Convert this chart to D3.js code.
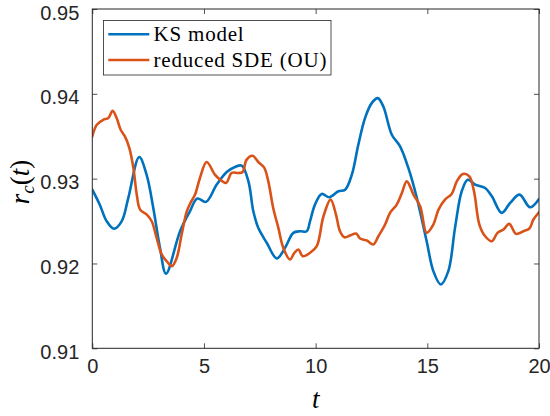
<!DOCTYPE html>
<html><head><meta charset="utf-8">
<script src="https://cdn.jsdelivr.net/npm/d3@7"></script>
<style>body{margin:0;background:#fff}svg{display:block}</style>
</head><body>
<svg id="chart" width="550" height="416"></svg>
<script>
const xTicks = [0, 5, 10, 15, 20];
const yTicks = [0.91, 0.92, 0.93, 0.94, 0.95];
const seriesNames = ["KS model", "reduced SDE (OU)"];
const seriesColors = ["#0072BD", "#D95319"];

const ksT = [0,0.34,0.64,0.97,1.32,1.61,2.1,2.43,2.73,3.03,3.3,3.93,4.37,4.7,5.09,5.57,6.02,6.39,6.69,6.99,7.21,7.43,7.81,8.26,8.63,9.0,9.3,9.6,9.75,9.97,10.27,10.61,11.02,11.32,11.62,11.91,12.21,12.51,12.78,13.03,13.41,13.78,14.15,14.53,14.97,15.27,15.6,15.94,16.24,16.54,16.81,17.14,17.59,17.89,18.33,18.71,19.13,19.6,20];
const ksR = [0.9287,0.9269,0.9250,0.9241,0.9250,0.9277,0.93255,0.93047,0.92655,0.92185,0.9188,0.9238,0.92615,0.92765,0.92726,0.9293,0.93079,0.93138,0.93153,0.92968,0.92615,0.9242,0.92244,0.92059,0.92185,0.92361,0.9238,0.9238,0.9250,0.92694,0.9282,0.9278,0.92851,0.9287,0.93047,0.934,0.93714,0.9389,0.93949,0.9385,0.93518,0.9338,0.93126,0.92773,0.92262,0.9191,0.91753,0.9191,0.9242,0.92851,0.92988,0.9293,0.9289,0.92792,0.92596,0.92714,0.92812,0.92662,0.9276];

const sdeT = [0,0.2,0.49,0.72,0.91,1.09,1.27,1.46,1.66,1.84,1.99,2.14,2.44,2.66,2.88,3.11,3.33,3.56,3.78,4.0,4.23,4.42,4.6,4.82,5.12,5.49,5.72,5.99,6.24,6.54,6.73,6.91,7.18,7.43,7.69,7.88,8.1,8.33,8.55,8.85,9.05,9.23,9.42,9.75,10.05,10.35,10.67,10.91,11.09,11.29,11.54,11.81,11.99,12.29,12.58,12.81,13.11,13.33,13.63,13.86,14.08,14.38,14.68,14.97,15.27,15.5,15.79,16.09,16.32,16.59,16.88,17.09,17.33,17.59,17.89,18.14,18.41,18.67,18.97,19.3,19.57,19.75,20];
const sdeR = [0.93498,0.93635,0.93694,0.93714,0.938,0.93714,0.93576,0.93498,0.93361,0.93126,0.92812,0.92635,0.92576,0.92498,0.92302,0.92106,0.92027,0.91968,0.92067,0.92341,0.92615,0.92726,0.92812,0.93008,0.93196,0.93047,0.92988,0.9295,0.93067,0.93067,0.93079,0.93224,0.9327,0.93196,0.93133,0.92968,0.92655,0.9242,0.92185,0.92047,0.92126,0.92165,0.92086,0.92126,0.92204,0.92557,0.92753,0.92576,0.9238,0.92309,0.9233,0.92353,0.92294,0.92271,0.92224,0.92321,0.92459,0.92596,0.92694,0.92831,0.92968,0.92812,0.92674,0.92361,0.92459,0.92635,0.92753,0.9282,0.92968,0.93055,0.93027,0.92851,0.92459,0.92321,0.92262,0.92361,0.924,0.92467,0.92349,0.9238,0.92412,0.92518,0.92604];

const W = 550, H = 416;
const m = {left: 92.3, right: 11, top: 9, bottom: 67.7};
const svg = d3.select("#chart");
const x = d3.scaleLinear().domain([0, 20]).range([m.left, W - m.right]);
const y = d3.scaleLinear().domain([0.91, 0.95]).range([H - m.bottom, m.top]);
const axisColor = "#262626";
const sansFont = '"Liberation Sans", Arial, sans-serif';
const serifFont = '"Liberation Serif", "Times New Roman", serif';

const series = [
  {name: seriesNames[0], color: seriesColors[0], data: ksT.map((t, i) => [t, ksR[i]])},
  {name: seriesNames[1], color: seriesColors[1], data: sdeT.map((t, i) => [t, sdeR[i]])}
];

svg.append("clipPath").attr("id", "clip").append("rect")
  .attr("x", m.left).attr("y", m.top).attr("width", W - m.left - m.right).attr("height", H - m.top - m.bottom);

const line = d3.line().x(d => x(d[0])).y(d => y(d[1])).curve(d3.curveCatmullRom.alpha(0.5));
svg.append("g").attr("clip-path", "url(#clip)").selectAll("path").data(series).join("path")
  .attr("d", d => line(d.data)).attr("fill", "none").attr("stroke", d => d.color)
  .attr("stroke-width", 2.6).attr("stroke-linejoin", "round").attr("stroke-linecap", "round");

const tl = 5;
const styleAxis = g => {
  g.select(".domain").remove();
  g.selectAll(".tick line").attr("stroke", axisColor).attr("stroke-width", 0.8);
  g.selectAll(".tick text").attr("fill", axisColor).style("font-family", sansFont).style("font-size", "20px");
};
svg.append("g").attr("transform", `translate(0,${H - m.bottom})`)
  .call(d3.axisBottom(x).tickValues(xTicks).tickSize(-tl).tickPadding(11).tickFormat(d3.format("d")))
  .call(styleAxis);
svg.append("g").attr("transform", `translate(0,${m.top})`)
  .call(d3.axisTop(x).tickValues(xTicks).tickSize(-tl).tickFormat(""))
  .call(styleAxis);
svg.append("g").attr("transform", `translate(${m.left},0)`)
  .call(d3.axisLeft(y).tickValues(yTicks).tickSize(-tl).tickPadding(13).tickFormat(d3.format(".2f")))
  .call(styleAxis)
  .selectAll(".tick text").attr("dy", "0.5em");
svg.append("g").attr("transform", `translate(${W - m.right},0)`)
  .call(d3.axisRight(y).tickValues(yTicks).tickSize(-tl).tickFormat(""))
  .call(styleAxis);

svg.append("rect").attr("x", m.left).attr("y", m.top)
  .attr("width", W - m.left - m.right).attr("height", H - m.top - m.bottom)
  .attr("fill", "none").attr("stroke", axisColor).attr("stroke-width", 1);

// legend
const lg = svg.append("g");
lg.append("rect").attr("x", 103.5).attr("y", 20.5).attr("width", 227.5).attr("height", 54.5)
  .attr("fill", "#fff").attr("stroke", axisColor).attr("stroke-width", 0.8);
series.forEach((s, i) => {
  const ly = 34.3 + i * 25.7;
  lg.append("line").attr("x1", 108.3).attr("x2", 149.3).attr("y1", ly).attr("y2", ly)
    .attr("stroke", s.color).attr("stroke-width", 2.6);
  lg.append("text").attr("x", 153.5).attr("y", ly + 7).text(s.name)
    .style("font-family", serifFont).style("font-size", "21px").style("letter-spacing", "0.8px").attr("fill", "#000");
});

// axis labels
svg.append("text").attr("x", x(10)).attr("y", 408).attr("text-anchor", "middle")
  .style("font-family", serifFont).style("font-size", "27px").style("font-style", "italic").attr("fill", "#000").text("t");
const yl = svg.append("text").attr("transform", "translate(29,182) rotate(-90)").attr("text-anchor", "middle")
  .style("font-family", serifFont).style("font-size", "27px").attr("fill", "#000");
yl.append("tspan").style("font-style", "italic").text("r");
yl.append("tspan").style("font-style", "italic").style("font-size", "19px").attr("dy", 5).text("c");
yl.append("tspan").attr("dy", -5).text("(");
yl.append("tspan").style("font-style", "italic").text("t");
yl.append("tspan").text(")");
</script>
</body></html>
